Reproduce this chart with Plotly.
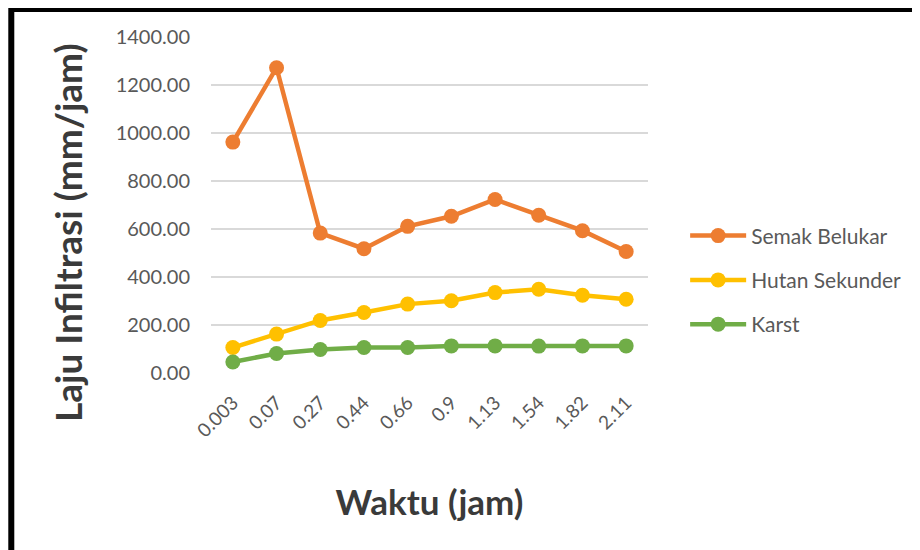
import plotly.graph_objects as go

waktu = ["0.003", "0.07", "0.27", "0.44", "0.66", "0.9", "1.13", "1.54", "1.82", "2.11"]
semak_belukar = [962, 1272, 583, 518, 611, 653, 723, 657, 593, 506]
hutan_sekunder = [106, 162, 219, 252, 287, 301, 335, 349, 324, 307]
karst = [46, 81, 98, 106, 106, 113, 113, 112, 113, 113]
y_ticks = [0, 200, 400, 600, 800, 1000, 1200, 1400]

series = [
    ("Semak Belukar", semak_belukar, "#ED7D31"),
    ("Hutan Sekunder", hutan_sekunder, "#FFC000"),
    ("Karst", karst, "#70AD47"),
]

fig = go.Figure()
for i, (name, vals, col) in enumerate(series):
    fig.add_trace(go.Scatter(
        x=waktu, y=vals, name=name, mode="lines+markers",
        line=dict(color=col, width=4.5),
        marker=dict(color=col, size=15),
        legendgroup=f"g{i}",
    ))

font_family = "Lato, 'Open Sans', sans-serif"
fig.update_layout(
    width=920, height=550,
    margin=dict(l=203, r=280, t=29, b=185),
    paper_bgcolor="white", plot_bgcolor="white",
    font=dict(family=font_family, color="#595959", size=18),
    showlegend=True,
    legend=dict(x=1.085, y=0.277, xanchor="left", yanchor="middle",
                font=dict(size=21, color="#595959", family=font_family),
                tracegroupgap=14, itemwidth=56, bgcolor="rgba(0,0,0,0)"),
    xaxis=dict(type="category", range=[-0.5, len(waktu) - 0.5], tickangle=-45,
               showgrid=False, zeroline=False,
               showline=False, ticks="", tickfont=dict(size=19, color="#595959"),
               ticklabelstandoff=14,
               title=dict(text="<b>Waktu (jam)</b>", font=dict(size=35, color="#3A3A3A"),
                          standoff=50)),
    yaxis=dict(range=[0, 1400], tickvals=y_ticks, tickformat=".2f",
               showgrid=True, gridcolor="#D9D9D9", gridwidth=1.5, zeroline=False,
               showline=False, ticks="", tickfont=dict(size=20, color="#595959"),
               ticklabelstandoff=20),
    annotations=[dict(text="<b>Laju Infiltrasi (mm/jam)</b>", textangle=-90,
                      xref="paper", yref="paper", x=-0.327, y=0.417,
                      xanchor="center", yanchor="middle", showarrow=False,
                      font=dict(size=37, color="#3A3A3A", family=font_family))],
    shapes=[dict(type="rect", xref="paper", yref="paper",
                 x0=-0.457, x1=1.72, y0=-0.75, y1=1.083,
                 line=dict(color="black", width=6), layer="below")],
)

fig.write_html("out.html")
